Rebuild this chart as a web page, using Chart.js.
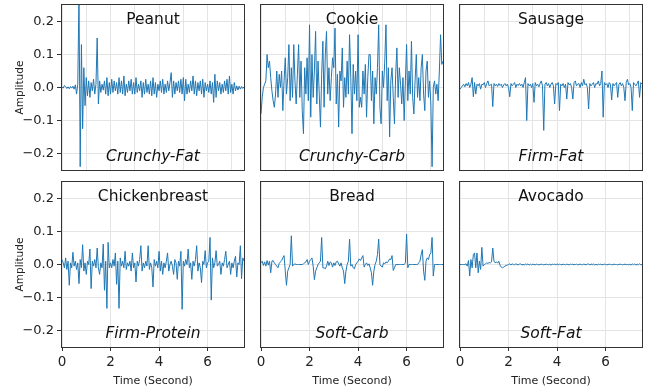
<!DOCTYPE html>
<html>
<head>
<meta charset="utf-8">
<script src="https://cdn.jsdelivr.net/npm/chart.js@4/dist/chart.umd.min.js"></script>
<style>
  html, body { margin: 0; padding: 0; background: #fff; }
  #wrap { position: relative; width: 652px; height: 392px; }
  #wrap canvas { position: absolute; left: 0; top: 0; }
</style>
</head>
<body>
<div id="wrap"></div>
<script>
// sample spacing of every waveform, in seconds (0 .. 7.5)
const step = 0.05;

const yTicks = [-0.2, -0.1, 0, 0.1, 0.2];
const xTicksTop = [0, 1, 2, 3, 4, 5, 6, 7];
const xTicksBottom = [0, 2, 4, 6];

const foods = ['Peanut', 'Cookie', 'Sausage', 'Chickenbreast', 'Bread', 'Avocado'];
const textures = ['Crunchy-Fat', 'Crunchy-Carb', 'Firm-Fat', 'Firm-Protein', 'Soft-Carb', 'Soft-Fat'];

const peanut = [
    0.002, -0.002, 0.006, 0.003, -0.003, 0.002, -0.004, 0.003, -0.002, 0.004,
    -0.005, 0.008, -0.02, 0.01, 0.28, -0.24, 0.13, -0.125, 0.06, -0.055,
    0.03, -0.025, 0.02, -0.03, 0.015, -0.01, 0.025, -0.02, 0.01, 0.15,
    -0.05, 0.02, -0.015, 0.01, -0.008, 0.02, -0.02, 0.03, -0.025, 0.015,
    -0.02, 0.025, -0.015, 0.02, -0.01, 0.015, -0.02, 0.03, -0.015, 0.02,
    -0.02, 0.035, -0.025, 0.01, -0.015, 0.02, -0.01, 0.025, -0.02, 0.015,
    -0.02, 0.03, -0.015, 0.01, -0.01, 0.02, -0.03, 0.015, -0.02, 0.025,
    -0.015, 0.01, -0.02, 0.02, -0.025, 0.03, -0.02, 0.015, -0.03, 0.01,
    -0.01, 0.02, -0.015, 0.025, -0.02, 0.01, -0.015, 0.02, -0.01, 0.015,
    0.045, -0.03, 0.02, -0.02, 0.015, -0.01, 0.02, -0.015, 0.025, -0.02,
    0.03, -0.04, 0.025, -0.02, 0.01, -0.015, 0.02, -0.01, 0.035, -0.02,
    0.02, -0.025, 0.015, -0.01, 0.02, -0.02, 0.025, -0.03, 0.015, -0.01,
    0.01, -0.015, 0.02, -0.02, 0.015, -0.045, 0.04, -0.03, 0.02, -0.01,
    0.015, -0.02, 0.01, -0.015, 0.02, -0.01, 0.025, -0.02, 0.035, -0.015,
    0.01, -0.02, 0.015, -0.01, 0.005, -0.008, 0.004, -0.005, 0.003, -0.003, 0.002
];

const cookie = [
    -0.08, -0.03, 0.0, 0.01, 0.02, 0.1, 0.06, 0.08, 0.03, -0.01,
    -0.04, -0.06, -0.02, 0.05, -0.03, 0.04, 0.0, 0.05, -0.07, 0.02,
    0.09, -0.02, 0.03, 0.13, -0.04, 0.06, -0.03, 0.13, 0.02, -0.05,
    0.04, 0.13, -0.03, 0.08, -0.07, -0.14, 0.06, -0.02, 0.09, -0.04,
    0.19, -0.09, 0.1, -0.03, 0.05, 0.17, -0.05, 0.08, -0.02, -0.12,
    0.04, 0.14, -0.06, 0.1, 0.17, -0.02, 0.06, -0.04, 0.03, 0.09,
    0.06, 0.18, -0.05, 0.04, -0.12, 0.05, 0.02, 0.12, -0.06, 0.03,
    -0.03, 0.08, -0.02, 0.16, 0.03, -0.14, 0.07, -0.02, 0.05, -0.04,
    0.16, -0.06, -0.03, -0.06, 0.05, -0.02, 0.07, -0.09, 0.03, 0.1,
    0.1, -0.04, 0.05, -0.11, 0.03, -0.02, 0.06, 0.19, -0.06, -0.11,
    0.05, 0.0, 0.08, 0.19, -0.04, 0.06, -0.15, 0.02, 0.06, -0.03,
    -0.11, 0.04, 0.12, -0.03, 0.06, 0.01, -0.05, 0.03, -0.1, 0.02,
    0.13, -0.04, 0.05, -0.02, 0.14, -0.03, -0.08, 0.02, 0.1, -0.03,
    0.03, -0.04, 0.06, 0.1, -0.02, -0.07, 0.05, 0.08, -0.03, 0.02,
    -0.05, -0.24, 0.0, 0.02, -0.02, 0.01, -0.04, 0.05, 0.16, 0.07, 0.08
];

const sausage = [
    -0.005, 0.0, 0.005, 0.01, 0.002, 0.012, 0.005, 0.015, 0.0, 0.01,
    0.03, -0.028, 0.015, -0.02, 0.01, 0.005, 0.012, -0.005, 0.01, 0.008,
    0.015, 0.0, 0.012, 0.02, 0.005, 0.008, 0.01, -0.058, 0.012, 0.005,
    0.01, 0.003, 0.012, 0.006, 0.01, 0.0, 0.008, 0.012, 0.005, 0.01,
    0.0, -0.028, 0.012, 0.005, 0.01, 0.015, 0.0, 0.01, 0.006, 0.012,
    0.005, 0.01, 0.0, 0.015, 0.03, -0.1, 0.012, 0.005, 0.01, 0.0,
    0.012, -0.045, 0.015, 0.005, 0.01, 0.002, 0.012, 0.02, 0.005, -0.13,
    0.01, 0.015, 0.005, 0.012, 0.0, 0.01, 0.015, 0.005, -0.05, 0.012,
    0.008, 0.015, -0.07, 0.01, 0.005, 0.012, 0.0, 0.01, -0.035, 0.015,
    0.008, 0.012, 0.0, -0.035, 0.015, 0.02, 0.005, 0.01, 0.012, 0.0,
    0.015, 0.005, 0.025, 0.008, 0.012, 0.0, -0.065, 0.012, 0.005, 0.01,
    0.015, 0.0, 0.012, 0.01, 0.02, 0.005, 0.012, 0.05, -0.09, 0.015,
    0.008, 0.012, 0.0, 0.015, 0.01, -0.038, 0.012, 0.005, 0.01, 0.015,
    -0.03, 0.01, 0.015, 0.005, 0.012, 0.0, -0.04, 0.015, 0.025, 0.008,
    0.012, 0.0, -0.07, 0.015, 0.01, 0.005, 0.012, 0.02, -0.03, 0.015, 0.01
];

const chickenbreast = [
    0.015, 0.005, -0.01, 0.02, -0.015, 0.01, -0.063, 0.005, -0.01, 0.037,
    -0.005, 0.01, -0.015, 0.005, -0.058, 0.015, -0.01, 0.06, -0.02, 0.005,
    -0.03, 0.01, 0.0, 0.047, -0.073, 0.01, -0.005, 0.015, -0.01, 0.05,
    -0.01, -0.03, 0.005, -0.01, 0.062, -0.078, 0.01, -0.133, 0.067, -0.01,
    0.005, -0.01, 0.015, -0.005, 0.035, -0.06, 0.01, -0.133, 0.02, -0.005,
    0.01, -0.01, 0.04, -0.015, 0.005, -0.005, 0.01, -0.02, 0.035, -0.01,
    0.005, -0.053, 0.01, -0.005, 0.015, 0.057, -0.02, 0.005, -0.01, 0.01,
    -0.005, 0.057, -0.015, 0.005, -0.01, -0.068, 0.015, -0.005, 0.01, -0.01,
    0.04, -0.02, 0.01, -0.03, 0.005, -0.01, 0.01, 0.035, -0.02, 0.0,
    0.01, -0.005, -0.03, 0.015, 0.005, -0.045, 0.01, -0.005, 0.04, -0.136,
    0.01, -0.005, 0.015, 0.0, 0.047, -0.01, 0.005, -0.045, 0.01, -0.005,
    0.015, 0.057, -0.02, 0.005, -0.01, -0.055, 0.01, 0.0, 0.042, -0.01,
    0.005, 0.01, 0.082, -0.108, 0.02, -0.01, 0.005, 0.042, -0.005, 0.0,
    0.01, -0.03, 0.005, -0.005, 0.015, 0.04, -0.01, 0.0, 0.01, -0.03,
    0.005, -0.01, 0.01, 0.025, -0.038, 0.005, 0.0, 0.057, -0.043, 0.02, 0.01
];

const bread = [
    0.005, 0.01, -0.003, 0.008, -0.005, 0.012, -0.002, 0.01, -0.025, 0.01,
    0.012, 0.005, 0.0, -0.005, -0.01, 0.003, 0.008, 0.012, 0.02, 0.027,
    -0.02, -0.063, -0.02, -0.01, 0.0, 0.087, -0.005, 0.0, 0.002, 0.0,
    0.0, 0.0, 0.0, 0.0, 0.0, 0.002, 0.005, 0.008, 0.015, 0.0,
    0.01, 0.015, 0.02, -0.005, -0.046, -0.02, -0.01, 0.0, 0.005, 0.01,
    0.082, -0.01, -0.01, -0.013, -0.005, 0.01, -0.003, 0.008, 0.005, -0.008,
    0.005, -0.003, 0.008, 0.01, 0.002, -0.005, 0.005, -0.01, -0.02, -0.058,
    -0.02, 0.0, 0.01, 0.077, -0.005, 0.0, -0.01, -0.013, 0.0, 0.005,
    0.01, 0.017, 0.012, 0.02, 0.027, -0.008, 0.0, 0.005, -0.003, 0.002,
    -0.01, -0.025, -0.063, -0.02, 0.0, 0.01, 0.03, 0.077, 0.0, -0.005,
    -0.008, 0.005, 0.002, 0.008, 0.005, 0.01, 0.017, 0.015, 0.027, -0.018,
    -0.01, 0.0, 0.0, 0.0, 0.0, 0.0, 0.0, 0.0, 0.0, 0.005,
    0.092, -0.01, 0.0, 0.0, 0.0, 0.0, 0.0, 0.0, 0.0, 0.0,
    0.005, 0.01, 0.03, 0.045, -0.02, -0.048, 0.01, 0.02, 0.015, 0.03,
    0.035, 0.082, -0.035, 0.0, 0.0, 0.0, 0.0, 0.0, 0.0, 0.0, 0.0
];

const avocado = [
    0.0, 0.0, 0.0, 0.0, 0.0, 0.002, -0.005, 0.012, -0.035, 0.015,
    -0.01, 0.03, 0.035, -0.01, 0.035, -0.025, 0.01, -0.015, 0.052, -0.005,
    0.0, 0.002, 0.005, 0.003, 0.006, 0.005, 0.008, 0.05, 0.01, 0.005,
    0.008, 0.004, 0.01, -0.002, -0.008, -0.01, -0.008, -0.005, -0.003, -0.002,
    0.0, 0.002, -0.001, 0.002, 0.0, -0.001, 0.002, 0.0, -0.001, 0.001,
    0.002, -0.002, 0.001, -0.002, 0.002, -0.001, 0.002, -0.002, 0.001, -0.001,
    0.001, 0.0, -0.001, 0.001, 0.0, -0.001, 0.0, 0.001, 0.0, -0.001,
    0.0, 0.001, 0.0, -0.001, 0.001, -0.002, 0.001, 0.0, 0.001, -0.001,
    0.002, -0.001, 0.001, 0.0, -0.001, 0.001, 0.0, -0.001, 0.001, 0.0,
    -0.001, 0.001, 0.0, 0.001, -0.001, 0.0, 0.001, -0.001, 0.0, 0.001,
    0.0, -0.001, 0.001, 0.0, -0.001, 0.001, 0.002, -0.002, 0.002, -0.001,
    0.002, -0.002, 0.001, -0.002, 0.001, 0.0, 0.001, -0.001, 0.0, 0.001,
    0.0, -0.001, 0.0, 0.001, 0.0, -0.001, 0.0, 0.001, 0.0, 0.0,
    -0.001, 0.0, 0.001, 0.0, -0.001, 0.0, 0.001, 0.0, 0.0, -0.001,
    0.001, -0.002, 0.002, -0.001, 0.002, -0.002, 0.001, -0.001, 0.002, -0.001, 0.0
];

const series = [peanut, cookie, sausage, chickenbreast, bread, avocado];

// panel geometry (plot rectangles in page pixels)
const colLeft = [62, 261, 460];
const rowTop = [5, 182];
const plotW = 182;
const plotH = 165;
const AXIS_W = 45;
const AXIS_H = 30;
const FONT = '"DejaVu Sans", sans-serif';

const fmtTick = (v) => {
    const s = Number(v).toFixed(1);
    return s.startsWith('-') ? '\u2212' + s.slice(1) : s;
};

// frame, in-axes titles and axis labels
const panelPlugin = {
    id: 'panelText',
    afterDraw(chart, args, opts) {
        const { ctx, chartArea: a } = chart;
        const cx = (a.left + a.right) / 2;
        ctx.save();
        ctx.strokeStyle = '#333';
        ctx.lineWidth = 1;
        ctx.strokeRect(a.left - 0.5, a.top - 0.5, a.width + 1, a.height + 1);

        ctx.fillStyle = '#111';
        ctx.textAlign = 'center';
        ctx.textBaseline = 'middle';
        ctx.font = '15.5px ' + FONT;
        ctx.fillText(opts.title, cx, a.top + 15);
        ctx.font = 'italic 15.5px ' + FONT;
        ctx.fillText(opts.texture, cx, a.bottom - 13);

        ctx.fillStyle = '#222';
        if (opts.yLabel) {
            ctx.font = '10.5px ' + FONT;
            ctx.translate(20, (a.top + a.bottom) / 2);
            ctx.rotate(-Math.PI / 2);
            ctx.fillText('Amplitude', 0, 0);
            ctx.setTransform(1, 0, 0, 1, 0, 0);
        }
        if (opts.xLabel) {
            ctx.font = '11px ' + FONT;
            ctx.fillText('Time (Second)', cx, a.bottom + 34.5);
        }
        ctx.restore();
    }
};

const wrap = document.getElementById('wrap');

series.forEach((values, idx) => {
    const col = idx % 3;
    const row = Math.floor(idx / 3);
    const showY = col === 0;
    const showX = row === 1;
    const left = colLeft[col];
    const top = rowTop[row];

    const canvas = document.createElement('canvas');
    canvas.width = 652;
    canvas.height = 392;
    wrap.appendChild(canvas);

    new Chart(canvas, {
        type: 'line',
        data: {
            datasets: [{
                data: values.map((v, i) => ({ x: i * step, y: v })),
                borderColor: '#1f77b4',
                borderWidth: 1,
                pointRadius: 0,
                tension: 0
            }]
        },
        options: {
            responsive: false,
            animation: false,
            devicePixelRatio: 1,
            events: [],
            layout: {
                padding: {
                    left: left - AXIS_W,
                    top: top,
                    right: 652 - left - plotW,
                    bottom: 392 - top - plotH - AXIS_H
                }
            },
            plugins: {
                legend: { display: false },
                tooltip: { enabled: false },
                panelText: {
                    title: foods[idx],
                    texture: textures[idx],
                    yLabel: showY,
                    xLabel: showX
                }
            },
            scales: {
                x: {
                    type: 'linear',
                    min: 0,
                    max: 7.5,
                    afterBuildTicks: (s) => {
                        s.ticks = (showX ? xTicksBottom : xTicksTop).map(v => ({ value: v }));
                    },
                    afterFit: (s) => {
                        s.height = AXIS_H;
                        s.paddingLeft = 0;
                        s.paddingRight = 0;
                    },
                    grid: {
                        color: '#e4e4e4',
                        lineWidth: 1,
                        drawTicks: showX,
                        tickLength: 4,
                        tickColor: '#333'
                    },
                    border: { display: false },
                    ticks: {
                        display: showX,
                        maxRotation: 0,
                        padding: 3,
                        color: '#222',
                        font: { family: FONT, size: 13.5 },
                        callback: (v) => String(v)
                    }
                },
                y: {
                    min: -0.25,
                    max: 0.25,
                    afterBuildTicks: (s) => {
                        s.ticks = yTicks.map(v => ({ value: v }));
                    },
                    afterFit: (s) => {
                        s.width = AXIS_W;
                        s.paddingTop = 0;
                        s.paddingBottom = 0;
                    },
                    grid: {
                        color: '#e4e4e4',
                        lineWidth: 1,
                        drawTicks: showY,
                        tickLength: 5,
                        tickColor: '#333'
                    },
                    border: { display: false },
                    ticks: {
                        display: showY,
                        padding: 3,
                        color: '#222',
                        font: { family: FONT, size: 13 },
                        callback: fmtTick
                    }
                }
            }
        },
        plugins: [panelPlugin]
    });
});
</script>
</body>
</html>
